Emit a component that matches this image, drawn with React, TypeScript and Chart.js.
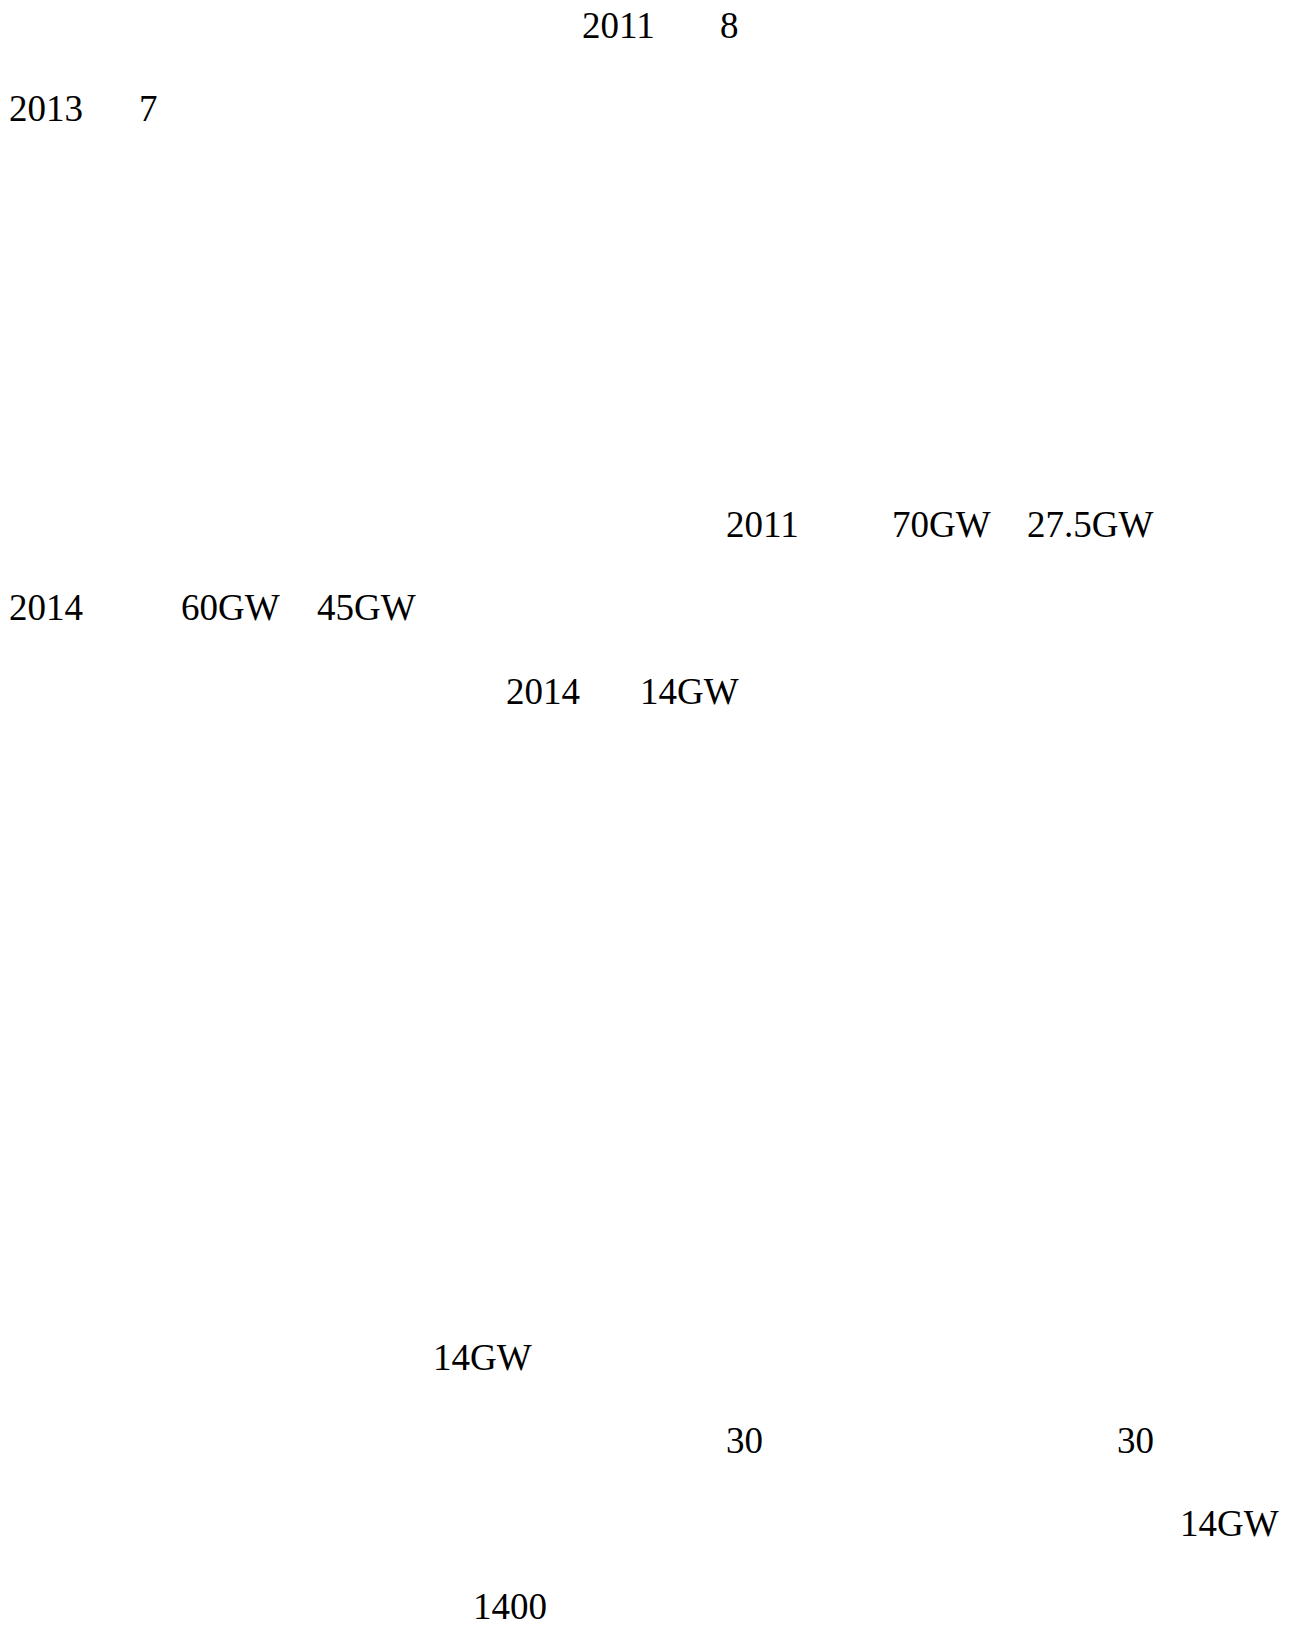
import React, { useEffect, useRef } from "react";
import { Chart, registerables } from "chart.js";

Chart.register(...registerables);

// Text fragments as they appear on the page (CJK glyphs are not rendered in the reference)
const fragmentTexts = [
  "2011", "8",
  "2013", "7",
  "2011", "70GW", "27.5GW",
  "2014", "60GW", "45GW",
  "2014", "14GW",
  "14GW",
  "30", "30",
  "14GW",
  "1400",
];
// line index of each fragment
const fragmentLines = [0, 0, 1, 1, 6, 6, 6, 7, 7, 7, 8, 8, 16, 17, 17, 18, 19];
// left edge in px of each fragment on its line
const fragmentLefts = [582, 720, 9, 139, 726, 892, 1027, 9, 181, 317, 506, 640, 433, 726, 1117, 1180, 473];

const FONT_SIZE = 37;
const LINE_STEP = 83.26;
const FIRST_LINE_TOP = 6.5;

export default function App() {
  const canvasRef = useRef<HTMLCanvasElement | null>(null);

  useEffect(() => {
    if (!canvasRef.current) return;
    const chart = new Chart(canvasRef.current, {
      type: "scatter",
      data: { datasets: [] },
      options: {
        animation: false,
        responsive: false,
        plugins: { legend: { display: false }, tooltip: { enabled: false } },
        scales: { x: { display: false }, y: { display: false } },
      },
    });
    return () => chart.destroy();
  }, []);

  return (
    <div>
      <canvas
        ref={canvasRef}
        width={10}
        height={10}
        style={{ position: "absolute", left: 0, top: 0, width: 10, height: 10, pointerEvents: "none" }}
      />
      {fragmentTexts.map((t, i) => (
        <span
          key={i}
          style={{
            position: "absolute",
            left: fragmentLefts[i],
            top: FIRST_LINE_TOP + fragmentLines[i] * LINE_STEP,
            fontFamily: "'Liberation Serif', 'Times New Roman', serif",
            fontSize: FONT_SIZE,
            lineHeight: `${FONT_SIZE}px`,
            color: "#000",
            whiteSpace: "pre",
          }}
        >
          {t}
        </span>
      ))}
    </div>
  );
}
